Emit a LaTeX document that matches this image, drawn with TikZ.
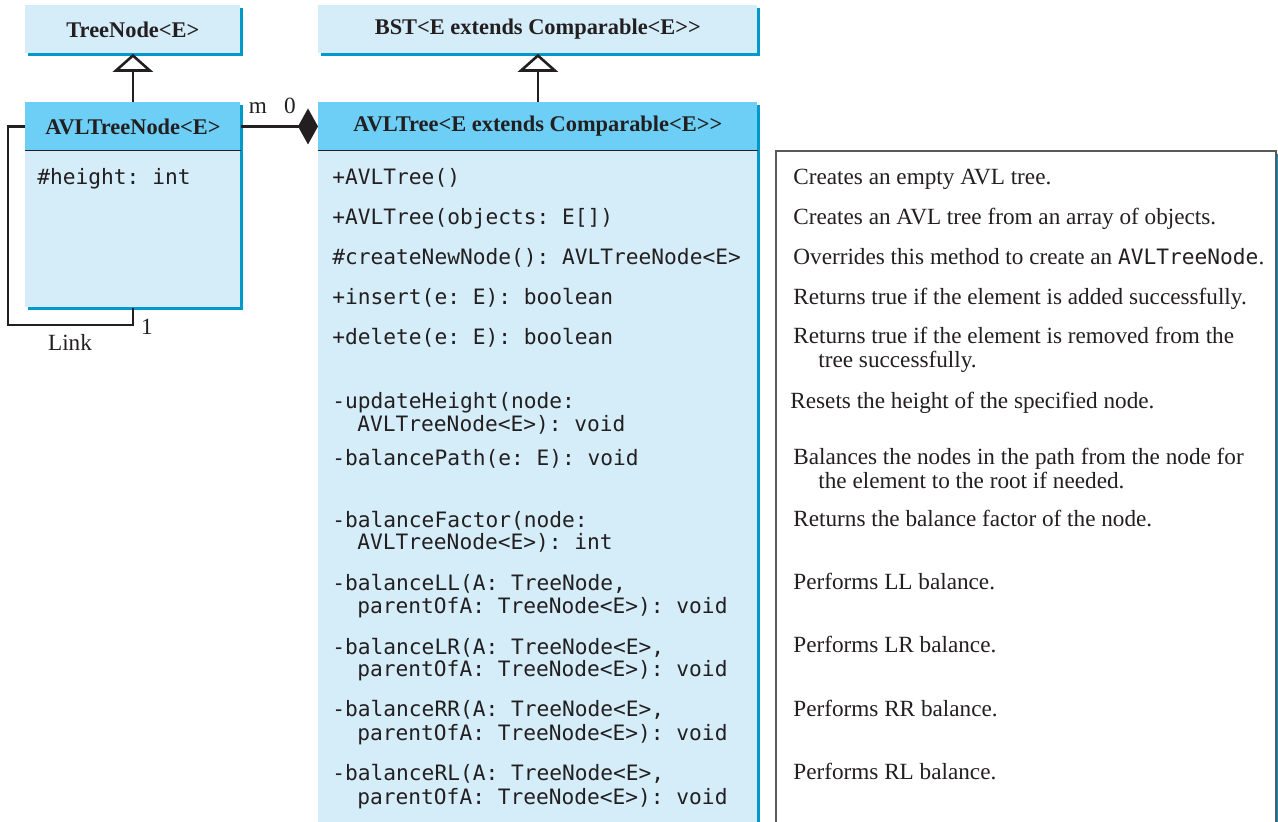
\documentclass[tikz,border=0pt]{standalone}
\usepackage{fontspec}
\setmainfont{Liberation Serif}
\setmonofont{DejaVu Sans Mono}
\usetikzlibrary{arrows.meta,shadows}

\definecolor{umlfill}{RGB}{212,237,249}
\definecolor{umlhead}{RGB}{109,207,246}
\definecolor{umlshadow}{RGB}{0,153,204}
\definecolor{inkgray}{RGB}{35,31,32}
\definecolor{boxgray}{RGB}{90,90,90}

\tikzset{
  classbox/.style={fill=umlfill, inner sep=0pt, anchor=north west,
    drop shadow={shadow xshift=1.5pt, shadow yshift=-1.5pt, fill=umlshadow, opacity=1}},
  headbox/.style={fill=umlhead, inner sep=0pt, anchor=north west, minimum height=24pt},
  classtitle/.style={font=\bfseries\fontsize{11.2}{13}\selectfont, text=inkgray},
  member/.style={font=\ttfamily\fontsize{10.6}{12}\selectfont, anchor=base west, inner sep=0pt, text=inkgray},
  notetext/.style={font=\fontsize{11.6}{14}\selectfont, anchor=base west, inner sep=0pt, text=inkgray},
  linkline/.style={line width=1.3pt, draw=inkgray},
}

\begin{document}
\begin{tikzpicture}[x=0.5pt,y=-0.5pt]
\useasboundingbox (0,0) rectangle (1278,821);

% super classes
\node[classbox, classtitle, minimum width=107.5pt, minimum height=24pt] (treenode) at (25,5) {TreeNode<E>};
\node[classbox, classtitle, minimum width=219.5pt, minimum height=24pt] (bst) at (318,5) {BST<E extends Comparable<E>{}>};

% AVLTreeNode
\node[classbox, minimum width=107.5pt, minimum height=102.5pt] (nodebody) at (25,102) {};
\node[headbox, classtitle, minimum width=107.5pt] (nodehead) at (25,102) {AVLTreeNode<E>};
\draw[inkgray, line width=0.6pt] (nodehead.south west) -- (nodehead.south east);
\node[member] (nheight) at (37,184) {\#height: int};

% AVLTree
\node[classbox, minimum width=219.5pt, minimum height=370pt] (treebody) at (318,102) {};
\node[headbox, classtitle, minimum width=219.5pt] (treehead) at (318,102) {AVLTree<E extends Comparable<E>{}>};
\draw[inkgray, line width=0.6pt] (treehead.south west) -- (treehead.south east);

\node[member] (mnew) at (332,184) {+AVLTree()};
\node[member] (mnewarr) at (332,224) {+AVLTree(objects: E[])};
\node[member] (mcreate) at (332,264) {\#createNewNode(): AVLTreeNode<E>};
\node[member] (minsert) at (332,304) {+insert(e: E): boolean};
\node[member] (mdelete) at (332,344) {+delete(e: E): boolean};
\node[member] (mupdate) at (332,408) {-updateHeight(node:};
\node[member] (mupdatetwo) at (357,431) {AVLTreeNode<E>): void};
\node[member] (mpath) at (332,465) {-balancePath(e: E): void};
\node[member] (mfactor) at (332,527) {-balanceFactor(node:};
\node[member] (mfactortwo) at (357,549) {AVLTreeNode<E>): int};
\node[member] (mll) at (332,590) {-balanceLL(A: TreeNode,};
\node[member] (mlltwo) at (357,613) {parentOfA: TreeNode<E>): void};
\node[member] (mlr) at (332,654) {-balanceLR(A: TreeNode<E>,};
\node[member] (mlrtwo) at (357,676) {parentOfA: TreeNode<E>): void};
\node[member] (mrr) at (332,716) {-balanceRR(A: TreeNode<E>,};
\node[member] (mrrtwo) at (357,740) {parentOfA: TreeNode<E>): void};
\node[member] (mrl) at (332,780) {-balanceRL(A: TreeNode<E>,};
\node[member] (mrltwo) at (357,804) {parentOfA: TreeNode<E>): void};

% notes
\node[anchor=north west, inner sep=0pt, draw=boxgray, line width=0.8pt, fill=white,
  minimum width=250pt, minimum height=340pt,
  drop shadow={shadow xshift=1.5pt, shadow yshift=-1.5pt, fill=umlshadow, opacity=1}] (notebox) at (775,150) {};

\node[notetext] (cnew) at (793,184) {Creates an empty AVL tree.};
\node[notetext] (cnewarr) at (793,224) {Creates an AVL tree from an array of objects.};
\node[notetext] (ccreate) at (793,264) {Overrides this method to create an {\ttfamily\fontsize{10.6}{12}\selectfont AVLTreeNode}.};
\node[notetext] (cinsert) at (793,304) {Returns true if the element is added successfully.};
\node[notetext] (cdelete) at (793,343) {Returns true if the element is removed from the};
\node[notetext] (cdeletetwo) at (818,367) {tree successfully.};
\node[notetext] (cupdate) at (790,408) {Resets the height of the specified node.};
\node[notetext] (cpath) at (793,464) {Balances the nodes in the path from the node for};
\node[notetext] (cpathtwo) at (818,488) {the element to the root if needed.};
\node[notetext] (cfactor) at (793,526) {Returns the balance factor of the node.};
\node[notetext] (cll) at (793,589) {Performs LL balance.};
\node[notetext] (clr) at (793,652) {Performs LR balance.};
\node[notetext] (crr) at (793,716) {Performs RR balance.};
\node[notetext] (crl) at (793,779) {Performs RL balance.};

% connectors
\draw[linkline, -{Triangle[open, fill=white, width=20pt, length=9pt]}] (nodehead.north) -- (treenode.south);
\draw[linkline, -{Triangle[open, fill=white, width=20pt, length=9pt]}] (treehead.north) -- (bst.south);
\draw[linkline, -{Diamond[width=18pt, length=10pt]}] (nodehead.east) -- (treehead.west);

\coordinate (linkcorner) at (8,325);
\draw[linkline] (nodehead.west) -| (linkcorner) -| (nodebody.south);

\node[notetext, anchor=base] (mult) at (258,113) {m};
\node[notetext, anchor=base] (multzero) at (290,113) {0};
\node[notetext, anchor=base] (multone) at (147,334) {1};
\node[notetext, anchor=base] (linklabel) at (70,350) {Link};

\end{tikzpicture}
\end{document}
